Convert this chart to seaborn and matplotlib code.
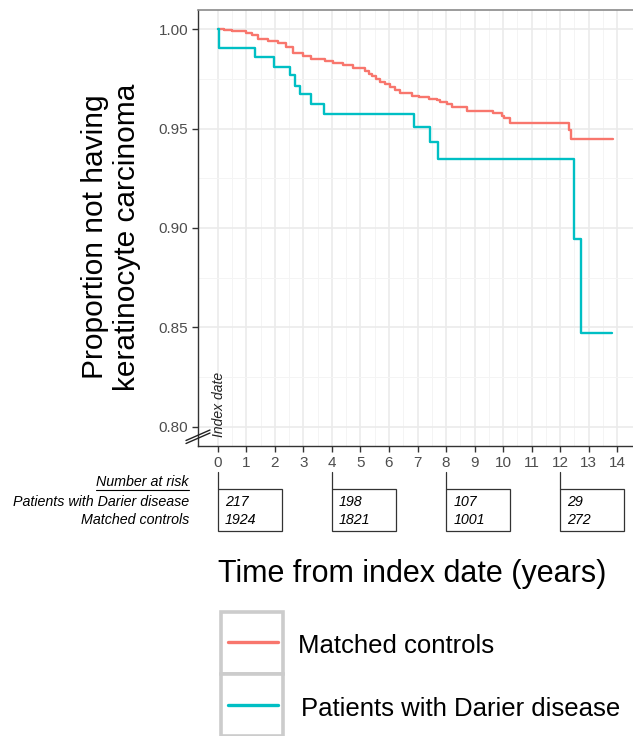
import numpy as np
import pandas as pd
import matplotlib
matplotlib.use("Agg")
import matplotlib.pyplot as plt
import matplotlib.transforms as mtrans
from matplotlib.patches import Rectangle
from matplotlib.lines import Line2D
import seaborn as sns

# ---------------- data ----------------
control_time = [0, 0.2, 0.5, 1.0, 1.2, 1.4, 1.75, 2.1, 2.4, 2.65, 3.0, 3.25, 3.77, 4.05, 4.4,
                4.75, 5.15, 5.3, 5.4, 5.55, 5.7, 5.85, 6.05, 6.2, 6.4, 6.8, 7.05, 7.4, 7.7,
                7.8, 8.05, 8.2, 8.75, 9.65, 9.95, 10.05, 10.25, 12.3, 12.4, 13.87]
control_surv = [1.0, 0.9995, 0.999, 0.998, 0.997, 0.995, 0.994, 0.993, 0.991, 0.988, 0.9865,
                0.985, 0.984, 0.983, 0.982, 0.9805, 0.979, 0.9775, 0.9765, 0.975, 0.9735,
                0.9722, 0.9707, 0.9695, 0.968, 0.9665, 0.9657, 0.965, 0.9643, 0.9633, 0.9623,
                0.961, 0.959, 0.9576, 0.9565, 0.9555, 0.9526, 0.949, 0.9447, 0.9447]

darier_time = [0, 0.02, 1.31, 1.98, 2.52, 2.71, 2.87, 3.27, 3.73, 6.86, 7.44, 7.73, 12.49, 12.72, 13.81]
darier_surv = [1.0, 0.9906, 0.9861, 0.9811, 0.9767, 0.9714, 0.9672, 0.9623, 0.9573, 0.951,
               0.943, 0.9347, 0.8943, 0.847, 0.847]

groups = ["Matched controls", "Patients with Darier disease"]
colors = ["#F8766D", "#00BFC4"]

risk_times = [0, 4, 8, 12]
risk_darier = [217, 198, 107, 29]
risk_control = [1924, 1821, 1001, 272]
risk_rows = ["Patients with Darier disease", "Matched controls"]

x_ticks = list(range(0, 15))
y_ticks = [0.80, 0.85, 0.90, 0.95, 1.00]
y_tick_labels = ["0.80", "0.85", "0.90", "0.95", "1.00"]

df = pd.concat([
    pd.DataFrame({"time": control_time, "surv": control_surv, "group": groups[0]}),
    pd.DataFrame({"time": darier_time, "surv": darier_surv, "group": groups[1]}),
], ignore_index=True)

# ---------------- style ----------------
sns.set_theme(style="white")
plt.rcParams["font.family"] = ["Liberation Sans", "DejaVu Sans"]

W, H = 633, 736
fig = plt.figure(figsize=(W / 100, H / 100), dpi=100)

def fx(px):
    return px / W

def fy(py):
    return 1 - py / H

ax_left, ax_right, ax_top, ax_bot = 198, 637, 10, 446
ax = fig.add_axes([fx(ax_left), fy(ax_bot), (ax_right - ax_left) / W, (ax_bot - ax_top) / H])

sns.lineplot(data=df, x="time", y="surv", hue="group", hue_order=groups,
             palette=colors, estimator=None, sort=False, drawstyle="steps-post",
             linewidth=1.7, legend=False, ax=ax)

ax.set_xlim(-0.7, 14.7)
ax.set_ylim(0.79045, 1.00955)
ax.set_xticks(x_ticks)
ax.set_xticklabels([str(t) for t in x_ticks])
ax.set_xticks(np.arange(0.5, 14, 1.0), minor=True)
ax.set_yticks(y_ticks)
ax.set_yticklabels(y_tick_labels)
ax.set_yticks([0.825, 0.875, 0.925, 0.975], minor=True)
ax.grid(which="major", color="#EBEBEB", linewidth=1.2)
ax.grid(which="minor", color="#F4F4F4", linewidth=0.7)
ax.set_axisbelow(True)
ax.set_xlabel("")
ax.set_ylabel("")
ax.tick_params(axis="both", which="major", length=4, width=1.0, color="#333333",
               labelcolor="#4D4D4D", labelsize=11, pad=3, bottom=True, left=True)
ax.tick_params(axis="both", which="minor", length=0)
for s in ["top", "right"]:
    ax.spines[s].set_color("#8A8A8A")
    ax.spines[s].set_linewidth(1.2)
for s in ["left", "bottom"]:
    ax.spines[s].set_color("#333333")
    ax.spines[s].set_linewidth(1.0)

# index date label
ax.text(0.04, 0.7951, "Index date", rotation=90, ha="center", va="bottom",
        fontsize=10, style="italic", color="#222222")

# axis break marks
for off in (0, 3.0):
    fig.add_artist(Line2D([fx(186), fx(210)], [fy(443.5 - off), fy(433 - off)],
                          color="#222222", lw=1.0))

# y label
fig.text(fx(111), fy(237), "Proportion not having\nkeratinocyte carcinoma", rotation=90,
         ha="center", va="center", multialignment="center", fontsize=21.5, color="black",
         linespacing=1.2)

# x title
fig.text(fx(412), fy(574), "Time from index date (years)", ha="center", va="center",
         fontsize=22, color="black")

# number at risk table
FS = 10.3
bt = mtrans.blended_transform_factory(ax.transData, fig.transFigure)
t_nar = fig.text(fx(189), fy(482.5), "Number at risk", ha="right", va="center",
                 fontsize=FS, style="italic", color="black")
fig.text(fx(189), fy(501.5), risk_rows[0], ha="right", va="center", fontsize=FS,
         style="italic", color="black")
fig.text(fx(189), fy(519.5), risk_rows[1], ha="right", va="center", fontsize=FS,
         style="italic", color="black")
box_w = 2.25
for t, nd, nc in zip(risk_times, risk_darier, risk_control):
    fig.add_artist(Line2D([t, t], [fy(472), fy(488.5)], transform=bt, color="#333333", lw=0.9))
    fig.add_artist(Rectangle((t, fy(531)), box_w, fy(488.5) - fy(531), transform=bt,
                             fill=False, edgecolor="#333333", lw=0.9))
    fig.text(t + 0.25, fy(501.5), str(nd), transform=bt, ha="left", va="center",
             fontsize=FS, style="italic", color="black")
    fig.text(t + 0.25, fy(519.5), str(nc), transform=bt, ha="left", va="center",
             fontsize=FS, style="italic", color="black")

fig.canvas.draw()
bb = t_nar.get_window_extent()
fig.add_artist(Line2D([bb.x0 / W, bb.x1 / W], [fy(489.5), fy(489.5)], color="black", lw=0.8))

# legend
for i, (g, c) in enumerate(zip(groups, colors)):
    top = 612 + i * 62
    fig.add_artist(Rectangle((fx(221), fy(top + 62)), fx(283) - fx(221), fy(top) - fy(top + 62),
                             fill=True, facecolor="white", edgecolor="#CCCCCC", lw=2.6))
    ly = 642 + i * 63
    fig.add_artist(Line2D([fx(228), fx(278)], [fy(ly), fy(ly)], color=c, lw=2.4))
    fig.text(fx(298 + 3 * i), fy(646 + i * 62.5), g, ha="left", va="center",
             fontsize=18.5, color="black")

fig.savefig("out.png", dpi=100)
